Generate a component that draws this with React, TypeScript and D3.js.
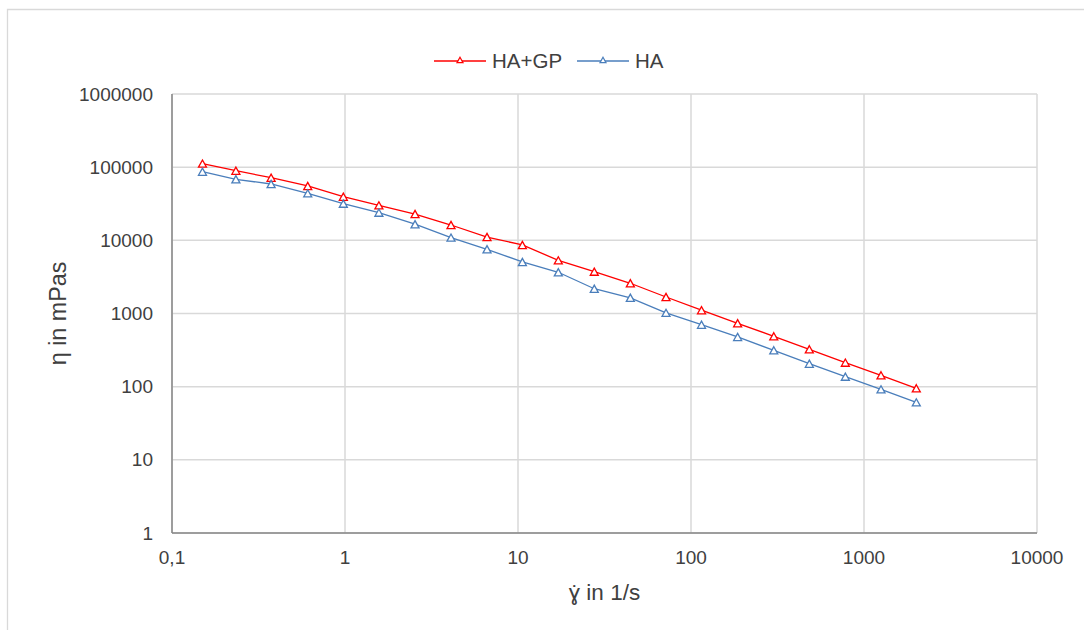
import React from "react";
import * as d3 from "d3";

const shearRates = [0.15, 0.234, 0.374, 0.609, 0.978, 1.57, 2.54, 4.1, 6.62, 10.6, 17.1, 27.6, 44.6, 71.7, 115, 186, 301, 483, 780, 1254, 2006];
const haGp = [112000, 89500, 71800, 55300, 39500, 30100, 22900, 16200, 11100, 8640, 5330, 3730, 2590, 1680, 1110, 735, 488, 324, 213, 143, 95];
const ha = [86700, 68300, 58900, 43900, 31700, 23900, 16600, 10900, 7550, 5060, 3660, 2180, 1640, 1020, 703, 478, 314, 206, 137, 92, 61];
const xTicks = [0.1, 1, 10, 100, 1000, 10000];
const xTickLabels = ["0,1", "1", "10", "100", "1000", "10000"];
const yTicks = [1, 10, 100, 1000, 10000, 100000, 1000000];
const yTickLabels = ["1", "10", "100", "1000", "10000", "100000", "1000000"];

const series = [
  { name: "HA+GP", values: haGp, color: "#FF0000" },
  { name: "HA", values: ha, color: "#4A7EBB" },
];

const W = 1084;
const H = 630;
const plot = { left: 172, right: 1037, top: 94, bottom: 533 };
const FONT = "'Liberation Sans', Arial, sans-serif";
const TEXT = "#404040";

function tri(cx: number, cy: number, s: number) {
  const h = s * 0.9;
  return `M${cx},${cy - h / 2}L${cx + s / 2},${cy + h / 2}L${cx - s / 2},${cy + h / 2}Z`;
}

export default function App() {
  const x = d3.scaleLog().domain([0.1, 10000]).range([plot.left, plot.right]);
  const y = d3.scaleLog().domain([1, 1000000]).range([plot.bottom, plot.top]);
  const line = d3
    .line<[number, number]>()
    .x((d) => x(d[0]))
    .y((d) => y(d[1]));

  return (
    <svg
      width={W}
      height={H}
      style={{ position: "absolute", left: 0, top: 0, background: "#fff" }}
      fontFamily={FONT}
    >
      <rect x={0} y={0} width={W} height={H} fill="#fff" />
      {/* outer chart frame */}
      <path d={`M7.5,${H}V9.5H${W}`} fill="none" stroke="#d9d9d9" strokeWidth={1.3} />

      {/* gridlines */}
      {xTicks.map((t, i) => (
        <line key={"gx" + i} x1={x(t)} x2={x(t)} y1={plot.top} y2={plot.bottom} stroke="#d9d9d9" strokeWidth={1.5} />
      ))}
      {yTicks.map((t, i) => (
        <line key={"gy" + i} x1={plot.left} x2={plot.right} y1={y(t)} y2={y(t)} stroke="#d9d9d9" strokeWidth={1.5} />
      ))}
      {/* axes */}
      <line x1={plot.left} x2={plot.left} y1={plot.top} y2={plot.bottom} stroke="#868686" strokeWidth={1.5} />
      <line x1={plot.left} x2={plot.right} y1={plot.bottom} y2={plot.bottom} stroke="#868686" strokeWidth={1.5} />

      {/* tick labels */}
      {xTicks.map((t, i) => (
        <text key={"xt" + i} x={x(t)} y={plot.bottom + 31} textAnchor="middle" fontSize={19} fill={TEXT}>
          {xTickLabels[i]}
        </text>
      ))}
      {yTicks.map((t, i) => (
        <text key={"yt" + i} x={153} y={y(t)} dy="0.35em" textAnchor="end" fontSize={19} fill={TEXT}>
          {yTickLabels[i]}
        </text>
      ))}

      {/* series */}
      {series.map((s) => {
        const pts = shearRates.map((r, i) => [r, s.values[i]] as [number, number]);
        return (
          <g key={s.name}>
            <path d={line(pts) || ""} fill="none" stroke={s.color} strokeWidth={1.3} />
            {pts.map((p, i) => (
              <path key={i} d={tri(x(p[0]), y(p[1]), 8)} fill="#fff" stroke={s.color} strokeWidth={1.3} />
            ))}
          </g>
        );
      })}

      {/* legend */}
      {series.map((s, i) => {
        const lx = i === 0 ? 434 : 577;
        const ly = 61;
        return (
          <g key={"lg" + i}>
            <line x1={lx} x2={lx + 52} y1={ly} y2={ly} stroke={s.color} strokeWidth={1.3} />
            <path d={tri(lx + 26, ly - 1, 6)} fill="#fff" stroke={s.color} strokeWidth={1.2} />
            <text x={lx + 58} y={ly} dy="0.36em" fontSize={20.5} fill={TEXT}>
              {s.name}
            </text>
          </g>
        );
      })}

      {/* axis titles */}
      <text x={(plot.left + plot.right) / 2} y={600} textAnchor="middle" fontSize={22.5} fill={TEXT}>
        ɣ̇ in 1/s
      </text>
      <text
        transform={`translate(66,${(plot.top + plot.bottom) / 2}) rotate(-90)`}
        textAnchor="middle"
        fontSize={23.3}
        fill={TEXT}
      >
        η in mPas
      </text>
    </svg>
  );
}
